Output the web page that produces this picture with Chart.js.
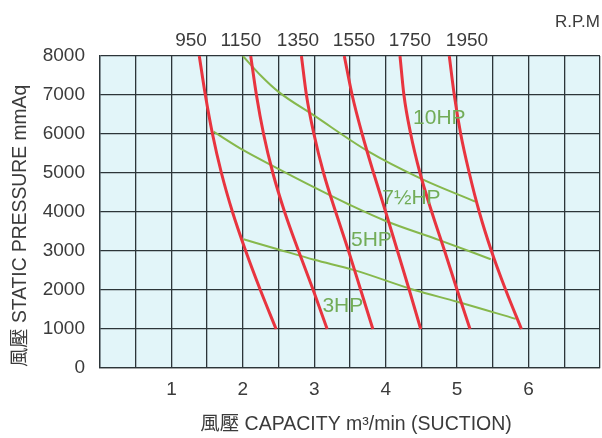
<!DOCTYPE html>
<html><head><meta charset="utf-8">
<script src="https://cdn.jsdelivr.net/npm/chart.js@4.4.1/dist/chart.umd.min.js"></script>
<style>html,body{margin:0;padding:0;background:#fff;}</style>
</head><body>
<canvas id="c" width="602" height="438" style="display:block;width:602px;height:438px"></canvas>
<script>
// ---- data ----
const capacityTicks = [1, 2, 3, 4, 5, 6];
const pressureLevels = [8000, 7000, 6000, 5000, 4000, 3000, 2000, 1000];
const rpmNames = ['950', '1150', '1350', '1550', '1750', '1950'];
const rpm950  = [1.39, 1.475, 1.575, 1.70, 1.855, 2.04, 2.245, 2.465];
const rpm1150 = [2.11, 2.19, 2.29, 2.42, 2.585, 2.78, 2.985, 3.18];
const rpm1350 = [2.82, 2.89, 2.995, 3.13, 3.30, 3.48, 3.65, 3.82];
const rpm1550 = [3.42, 3.53, 3.67, 3.83, 4.0, 4.165, 4.33, 4.49];
const rpm1750 = [4.2, 4.255, 4.35, 4.48, 4.645, 4.825, 5.0, 5.18];
const rpm1950 = [4.89, 4.96, 5.05, 5.17, 5.31, 5.48, 5.68, 5.9];
const rpmCurves = [rpm950, rpm1150, rpm1350, rpm1550, rpm1750, rpm1950];

const hp10X  = [2.0, 2.25, 2.5, 3.0, 3.75, 4.5, 5.25];
const hp10Y  = [8000, 7500, 7080, 6470, 5560, 4850, 4270];
const hp75X  = [1.59, 2.0, 2.45, 3.0, 3.5, 4.0, 4.75, 5.47];
const hp75Y  = [6060, 5590, 5150, 4630, 4180, 3770, 3280, 2790];
const hp3X   = [2.01, 2.5, 3.0, 3.56, 4.4, 5.0, 5.82];
const hp3Y   = [3300, 3040, 2775, 2510, 2000, 1700, 1260];

const hpNames = ['10HP', '7½HP', '5HP', '3HP'];
const hpLabelX = [4.75, 4.36, 3.80, 3.40];
const hpLabelY = [6410, 4360, 3280, 1590];
const rpmLabelX = [1.274, 1.974, 2.772, 3.556, 4.340, 5.138];

// ---- styles ----
const FONT = "'Liberation Sans', Arial, 'Noto Sans CJK TC', sans-serif";
const TEXT = '#3b3b3b';
const GRID = '#2c3539';
const RED = '#e8343f';
const GREEN = '#86b84c';
const LABEL_GREEN = '#72ac58';

const datasets = [];
rpmCurves.forEach((xs, k) => {
  datasets.push({
    label: rpmNames[k] + ' RPM',
    data: xs.map((x, i) => ({x: x, y: pressureLevels[i]})),
    borderColor: RED, borderWidth: 3, showLine: true, pointRadius: 0,
    cubicInterpolationMode: 'monotone'
  });
});
[[hp10X, hp10Y], [hp75X, hp75Y], [hp3X, hp3Y]].forEach(([xs, ys], k) => {
  datasets.push({
    label: 'HP' + k,
    data: xs.map((x, i) => ({x: x, y: ys[i]})),
    borderColor: GREEN, borderWidth: 2, showLine: true, pointRadius: 0,
    cubicInterpolationMode: 'monotone'
  });
});

const decor = {
  id: 'decor',
  beforeDraw(chart) {
    const {ctx, chartArea: a} = chart;
    ctx.save();
    ctx.fillStyle = '#e2f5f9';
    ctx.fillRect(a.left, a.top, a.right - a.left, a.bottom - a.top);
    ctx.restore();
  },
  afterDraw(chart) {
    const {ctx, chartArea: a, scales} = chart;
    const xs = scales.x, ys = scales.y;
    ctx.save();
    ctx.textBaseline = 'middle';
    // RPM labels
    ctx.fillStyle = TEXT;
    ctx.font = '19px ' + FONT;
    ctx.textAlign = 'center';
    rpmNames.forEach((n, i) => ctx.fillText(n, xs.getPixelForValue(rpmLabelX[i]), a.top - 15));
    ctx.font = '17px ' + FONT;
    ctx.textAlign = 'right';
    ctx.fillText('R.P.M', a.right, a.top - 34);
    // HP labels
    ctx.fillStyle = LABEL_GREEN;
    ctx.font = '21px ' + FONT;
    ctx.textAlign = 'center';
    hpNames.forEach((n, i) => ctx.fillText(n, xs.getPixelForValue(hpLabelX[i]), ys.getPixelForValue(hpLabelY[i])));
    // axis titles
    ctx.fillStyle = TEXT;
    ctx.font = '19.5px ' + FONT;
    ctx.textAlign = 'center';
    ctx.fillText('風壓 CAPACITY m³/min (SUCTION)', (a.left + a.right) / 2 + 6, a.bottom + 57);
    ctx.font = '19.3px ' + FONT;
    ctx.textAlign = 'left';
    ctx.translate(21, a.bottom - 1);
    ctx.rotate(-Math.PI / 2);
    ctx.fillText('風壓 STATIC PRESSURE mmAq', 0, 0);
    ctx.restore();
  }
};

new Chart(document.getElementById('c'), {
  type: 'scatter',
  data: {datasets},
  plugins: [decor],
  options: {
    responsive: false,
    animation: false,
    layout: {padding: {top: 56, right: 2, left: 0, bottom: 0}},
    plugins: {legend: {display: false}, tooltip: {enabled: false}},
    scales: {
      x: {
        type: 'linear', min: 0, max: 7,
        afterFit(s) { s.height = 70; s.paddingLeft = 0; s.paddingRight = 0; },
        grid: {color: GRID, lineWidth: 1.3, drawTicks: false},
        border: {display: true, color: GRID, width: 1.3},
        ticks: {
          stepSize: 0.5, autoSkip: false, maxRotation: 0, padding: 10,
          color: TEXT, font: {family: FONT, size: 19},
          callback: v => capacityTicks.includes(v) ? String(v) : ''
        }
      },
      y: {
        type: 'linear', min: 0, max: 8000,
        afterFit(s) { s.width = 100; s.paddingTop = 0; s.paddingBottom = 0; },
        grid: {color: GRID, lineWidth: 1.3, drawTicks: false},
        border: {display: true, color: GRID, width: 1.3},
        ticks: {stepSize: 1000, padding: 15, color: TEXT, font: {family: FONT, size: 19},
          callback: v => String(v)}
      }
    }
  }
});
</script>
</body></html>
